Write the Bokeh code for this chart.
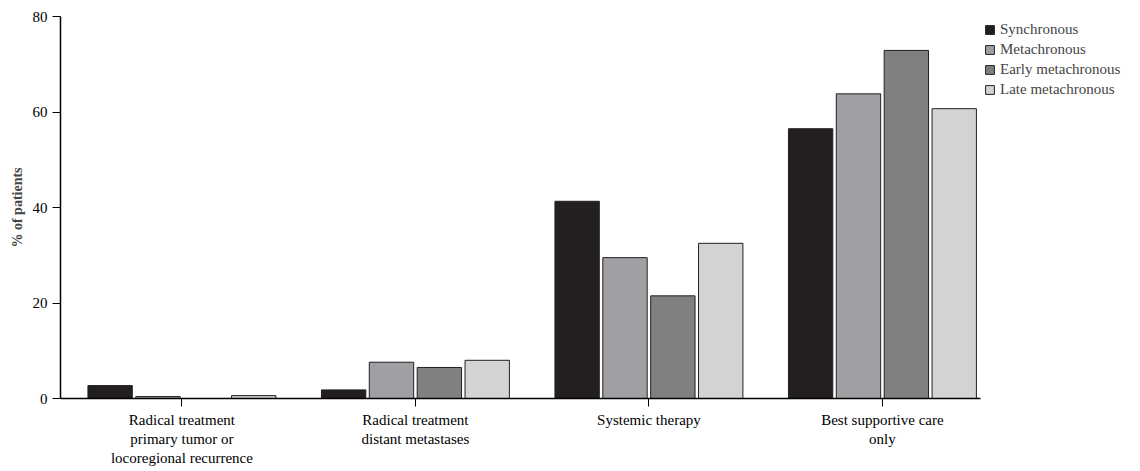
from bokeh.plotting import figure
from bokeh.models import ColumnDataSource, Legend, LegendItem, FixedTicker
from bokeh.embed import file_html
from bokeh.resources import INLINE

# data
categories = ["Radical treatment\nprimary tumor or\nlocoregional recurrence",
              "Radical treatment\ndistant metastases",
              "Systemic therapy",
              "Best supportive care\nonly"]
series = ["Synchronous", "Metachronous", "Early metachronous", "Late metachronous"]
synchronous = [2.7, 1.8, 41.3, 56.5]
metachronous = [0.4, 7.6, 29.5, 63.8]
early_meta = [0.0, 6.5, 21.5, 72.9]
late_meta = [0.6, 8.0, 32.5, 60.7]
values = [synchronous, metachronous, early_meta, late_meta]
colors = ["#231f20", "#a0a0a4", "#808080", "#d3d3d3"]

FONT = "Liberation Serif"

p = figure(frame_width=920, frame_height=382, output_backend="svg", toolbar_location=None,
           x_range=(-0.52, 3.42), y_range=(0, 80),
           min_border_left=60, min_border_right=0, min_border_top=9, min_border_bottom=56)
p.min_border_top = 16
p.grid.visible = False
p.outline_line_color = None

items = []
for i, (name, vals, c) in enumerate(zip(series, values, colors)):
    xs = [g + (i - 1.5) * 0.205 for g in range(4)]
    src = ColumnDataSource(dict(x=xs, top=vals))
    r = p.vbar(x="x", top="top", width=0.19, bottom=0, source=src,
               fill_color=c, line_color="#231f20", line_width=1)
    items.append(LegendItem(label=name, renderers=[r]))

p.xaxis.ticker = FixedTicker(ticks=[0, 1, 2, 3])
p.xaxis.major_label_overrides = {i: c for i, c in enumerate(categories)}
p.yaxis.ticker = FixedTicker(ticks=[0, 20, 40, 60, 80])
p.yaxis.axis_label = "% of patients"
p.yaxis.axis_label_text_font_style = "bold"
for ax in (p.xaxis, p.yaxis):
    ax.major_label_text_font = FONT
    ax.axis_label_text_font = FONT
    ax.major_label_text_font_size = "15px"
    ax.axis_label_text_font_size = "14px"
    ax.major_label_text_color = "black"
    ax.axis_line_color = "black"
    ax.axis_line_width = 1.5
    ax.major_tick_line_color = "black"
    ax.major_tick_out = 8
    ax.major_tick_in = 0
    ax.minor_tick_line_color = None

legend = Legend(items=items, location="top_left", label_text_font=FONT,
                label_text_font_size="15px", border_line_color=None,
                background_fill_alpha=0, padding=0, margin=4,
                glyph_width=11, glyph_height=11, spacing=2, label_height=18)
p.add_layout(legend, "right")

open("out.html", "w").write(file_html(p, INLINE))
